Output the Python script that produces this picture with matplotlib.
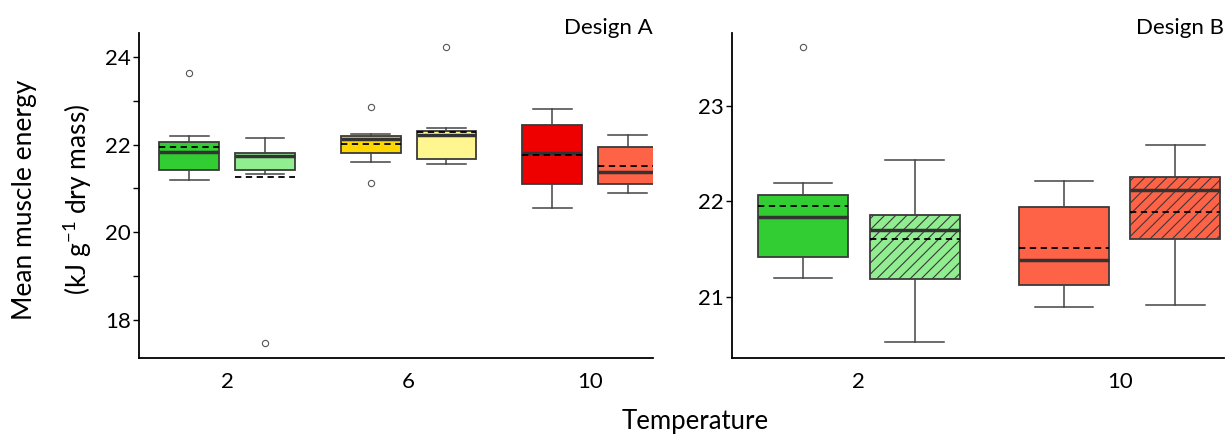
import matplotlib
matplotlib.use("Agg")
import matplotlib.pyplot as plt
from matplotlib.ticker import MultipleLocator

plt.rcParams['font.family'] = ['Lato', 'DejaVu Sans']
plt.rcParams['mathtext.fontset'] = 'custom'
plt.rcParams['mathtext.rm'] = 'Lato'
plt.rcParams['mathtext.default'] = 'rm'
plt.rcParams['hatch.linewidth'] = 0.8
plt.rcParams['hatch.color'] = '#2e2e2e'

# Design A: two boxes per temperature
temps_a = ["2", "6", "10"]
med_a = [21.84, 21.73, 22.12, 22.22, 21.80, 21.38]
q1_a = [21.42, 21.41, 21.82, 21.68, 21.11, 21.11]
q3_a = [22.07, 21.82, 22.20, 22.31, 22.45, 21.94]
lo_a = [21.20, 21.33, 21.60, 21.55, 20.56, 20.89]
hi_a = [22.20, 22.15, 22.24, 22.37, 22.81, 22.21]
mean_a = [21.95, 21.27, 22.02, 22.28, 21.76, 21.51]
fliers_a = [[23.63], [17.47], [22.87, 21.12], [24.23], [], []]
colors_a = ['#32CD32', '#90EE90', '#FFD700', '#FFF68F', '#EE0000', '#FF6347']

# Design B
temps_b = ["2", "10"]
med_b = [21.84, 21.70, 21.38, 22.12]
q1_b = [21.42, 21.19, 21.12, 21.60]
q3_b = [22.07, 21.86, 21.94, 22.26]
lo_b = [21.20, 20.52, 20.89, 20.91]
hi_b = [22.19, 22.44, 22.21, 22.59]
mean_b = [21.95, 21.60, 21.51, 21.89]
fliers_b = [[23.62], [], [], []]
colors_b = ['#32CD32', '#90EE90', '#FF6347', '#FF6347']
hatches_b = [None, '///', None, '///']


def make_stats(med, q1, q3, lo, hi, mean, fliers):
    stats = []
    for i in range(len(med)):
        stats.append(dict(med=med[i], q1=q1[i], q3=q3[i], whislo=lo[i],
                          whishi=hi[i], mean=mean[i], fliers=fliers[i]))
    return stats


def draw_boxes(ax, stats, n_groups, offset, width, colors, hatches=None):
    positions = []
    for g in range(n_groups):
        positions += [g - offset, g + offset]
    bp = ax.bxp(stats, positions=positions, widths=width, capwidths=width * 0.65,
                patch_artist=True, showmeans=True, meanline=True,
                boxprops=dict(edgecolor='#3a3a3a', linewidth=1.3),
                medianprops=dict(color='#333333', linewidth=2.5),
                meanprops=dict(color='black', linewidth=1.3, linestyle=(0, (3.5, 2.5))),
                whiskerprops=dict(color='#444444', linewidth=1.1),
                capprops=dict(color='#444444', linewidth=1.1),
                flierprops=dict(marker='o', markersize=4.5, markerfacecolor='none',
                                markeredgecolor='#555555', markeredgewidth=0.8))
    for i, box in enumerate(bp['boxes']):
        box.set_facecolor(colors[i])
        if hatches is not None and hatches[i]:
            box.set_hatch(hatches[i])
    return bp


def style_axes(ax):
    for side in ['top', 'right']:
        ax.spines[side].set_visible(False)
    for side in ['left', 'bottom']:
        ax.spines[side].set_linewidth(1.3)
    ax.tick_params(axis='x', length=0, pad=10, labelsize=16)
    ax.tick_params(axis='y', which='both', length=4, width=1, pad=2, labelsize=16)


fig = plt.figure(figsize=(12.26, 4.34), dpi=100)

# left panel
ax1 = fig.add_axes([0.1134, 0.1758, 0.4192, 0.749])
draw_boxes(ax1, make_stats(med_a, q1_a, q3_a, lo_a, hi_a, mean_a, fliers_a),
           len(temps_a), 0.209, 0.33, colors_a)
ax1.set_xlim(-0.485, 2.347)
ax1.set_ylim(17.126, 24.563)
ax1.set_xticks(range(len(temps_a)))
ax1.set_xticklabels(temps_a)
ax1.yaxis.set_major_locator(MultipleLocator(2))
ax1.yaxis.set_minor_locator(MultipleLocator(1))
style_axes(ax1)
ax1.text(1.0, 0.995, "Design A", transform=ax1.transAxes, ha='right', va='baseline', fontsize=16)

# right panel
ax2 = fig.add_axes([0.597, 0.1758, 0.4013, 0.749])
draw_boxes(ax2, make_stats(med_b, q1_b, q3_b, lo_b, hi_b, mean_b, fliers_b),
           len(temps_b), 0.214, 0.345, colors_b, hatches_b)
ax2.set_xlim(-0.487, 1.40)
ax2.set_ylim(20.358, 23.773)
ax2.set_xticks(range(len(temps_b)))
ax2.set_xticklabels(temps_b)
ax2.yaxis.set_major_locator(MultipleLocator(1))
style_axes(ax2)
ax2.text(1.0, 0.995, "Design B", transform=ax2.transAxes, ha='right', va='baseline', fontsize=16)

fig.text(0.020, 0.54, "Mean muscle energy", rotation=90, ha='center', va='center', fontsize=19)
fig.text(0.063, 0.54, "(kJ g$^{-1}$ dry mass)", rotation=90, ha='center', va='center', fontsize=19)
fig.text(0.567, 0.028, "Temperature", ha='center', va='center', fontsize=18.5)

fig.savefig("out.png", dpi=100)
